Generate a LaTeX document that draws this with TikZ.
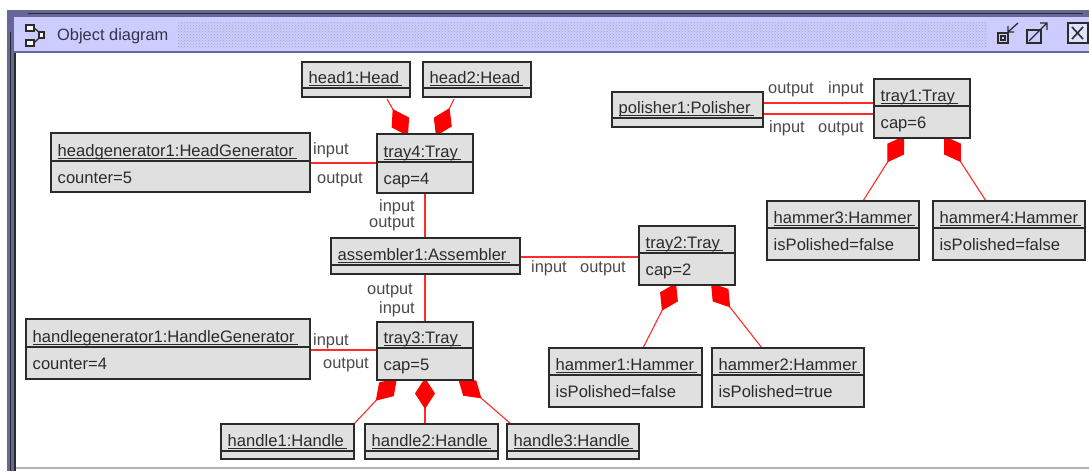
\documentclass[tikz,border=0pt]{standalone}
\usepackage{fontspec}
\setmainfont{Liberation Sans}
\usetikzlibrary{arrows.meta,patterns}
\pgfdeclarelayer{frame}
\pgfdeclarelayer{links}
\pgfsetlayers{frame,links,main}
\definecolor{lav}{HTML}{CCCCFF}
\definecolor{lavdark}{HTML}{666699}
\definecolor{boxfill}{HTML}{E0E0E0}
\definecolor{ink}{HTML}{2B2B2B}
\definecolor{lab}{HTML}{4A4A4A}
\definecolor{linkred}{HTML}{FF2A2A}
\newcommand{\ulin}[1]{\setbox0=\hbox{#1\kern3pt}\rlap{\rule[-3.4pt]{\wd0}{1.1pt}}\box0 }
\tikzset{
  objbox/.style={draw=ink,line width=1.2pt,fill=boxfill,inner sep=0pt,outer sep=0pt},
  objtext/.style={anchor=base west,inner sep=0pt,font=\fontsize{16.6}{18}\selectfont,text=ink},
  lab/.style={anchor=base west,inner sep=0pt,font=\fontsize{16.4}{18}\selectfont,text=lab},
  link/.style={draw=linkred,line width=1.1pt},
  comp/.style={link,{Diamond[length=31pt,width=20pt,fill=red,color=red]}-},
  icon/.style={draw=ink,line width=1.3pt},
}
% name, x0, y0, x1, y1, separator y, title, attribute
\newcommand{\objbox}[8]{%
  \node[objbox,minimum width=#4pt-#2pt,minimum height=#5pt-#3pt,anchor=north west] (#1) at (#2,#3) {};
  \draw[ink,line width=1.2pt] (#2,#6) -- (#4,#6);
  \node[objtext] (#1t) at (#2+6.5,#6-5) {\ulin{#7}};
  \node[objtext] (#1a) at (#2+6.5,#6+22.5) {#8};
}
\begin{document}
\begin{tikzpicture}[x=1pt,y=-1pt]
\useasboundingbox (0,0) rectangle (1089,471);
\begin{pgfonlayer}{frame}
\fill[lavdark] (7,10) rectangle (1089,52);
\fill[lavdark] (7,10) rectangle (14,471);
\fill[lav] (14,17) rectangle (1089,51);
\fill[ink] (14,52) rectangle (16,471);
\fill[white] (16,53) rectangle (1089,467);
\draw[lavdark,line width=1pt] (14,52.5) -- (1089,52.5);
\draw[ink,line width=1pt] (28,13.5) -- (1083,13.5);
\draw[ink,line width=1pt] (10.5,32) -- (10.5,471);
\draw[black!30,line width=1.5pt] (16,468) -- (1089,468);
\path[pattern=crosshatch dots,pattern color=lavdark!60] (178,22) rectangle (987,47);
\end{pgfonlayer}
% title bar
\draw[icon,fill=white] (26,25) rectangle (34,31);
\draw[icon,fill=white] (26,40) rectangle (34,46);
\draw[icon] (34,28) -- (39,32) -- (39,38) -- (34,43);
\draw[icon,fill=white] (39,32) rectangle (44,38);
\node[anchor=base west,inner sep=0pt,font=\fontsize{16.4}{18}\selectfont,text=lavdark!50!black] (title) at (57,40) {Object diagram};
\draw[icon,fill=lav] (998,33) rectangle (1008,43);
\draw[icon] (1001,36) rectangle (1005,40);
\draw[icon] (1018,23) -- (1008,32) (1008,26) -- (1008,32) -- (1014,32);
\draw[icon] (1027,30) rectangle (1041,43);
\draw[icon] (1029,41) -- (1047,23) (1040,23) -- (1047,23) -- (1047,30);
\draw[icon,line width=1.6pt,fill=lav!60!white] (1068,23) rectangle (1088,43);
\draw[icon,line width=1.6pt] (1072,27) -- (1083,39) (1072,39) -- (1083,27);
% boxes
\objbox{head1}{302}{62}{410}{97}{88}{head1:Head}{}
\objbox{head2}{423}{62}{531}{97}{88}{head2:Head}{}
\objbox{hgen}{51}{133}{310}{192}{161}{headgenerator1:HeadGenerator}{counter=5}
\objbox{tray4}{377}{134}{473}{193}{162}{tray4:Tray}{cap=4}
\objbox{polisher}{612}{92}{763}{127}{118}{polisher1:Polisher}{}
\objbox{tray1}{874}{79}{970}{138}{106}{tray1:Tray}{cap=6}
\objbox{hammer3}{767}{201}{919}{260}{228}{hammer3:Hammer}{isPolished=false}
\objbox{hammer4}{933}{201}{1085}{260}{228}{hammer4:Hammer}{isPolished=false}
\objbox{assembler}{331}{238}{520}{274}{265}{assembler1:Assembler}{}
\objbox{tray2}{639}{226}{735}{285}{253}{tray2:Tray}{cap=2}
\objbox{hangen}{26}{319}{310}{379}{347}{handlegenerator1:HandleGenerator}{counter=4}
\objbox{tray3}{377}{322}{473}{380}{348}{tray3:Tray}{cap=5}
\objbox{hammer1}{549}{348}{702}{407}{375}{hammer1:Hammer}{isPolished=false}
\objbox{hammer2}{712}{348}{864}{407}{375}{hammer2:Hammer}{isPolished=true}
\objbox{handle1}{221}{424}{354}{459}{451}{handle1:Handle}{}
\objbox{handle2}{365}{424}{498}{459}{451}{handle2:Handle}{}
\objbox{handle3}{507}{424}{639}{459}{451}{handle3:Handle}{}
\begin{pgfonlayer}{links}
% plain links
\draw[link] (hgen.east |- 0,163) -- (tray4.west |- 0,163);
\draw[link] (tray4.south) -- (tray4.south |- assembler.north);
\draw[link] (tray3.north |- assembler.south) -- (tray3.north);
\draw[link] (assembler.east |- 0,257) -- (tray2.west |- 0,257);
\draw[link] (hangen.east |- 0,350) -- (tray3.west |- 0,350);
\draw[link] (polisher.east |- 0,103) -- (tray1.west |- 0,103);
\draw[link] (polisher.east |- 0,114) -- (tray1.west |- 0,114);
% composition links: the diamond's point sits just inside the owner
\draw[comp] ([xshift=31pt,yshift=-2pt]tray4.north west) -- ([xshift=85pt,yshift=-2pt]head1.south west);
\draw[comp] ([xshift=59pt,yshift=-2pt]tray4.north west) -- ([xshift=31pt,yshift=-2pt]head2.south west);
\draw[comp] ([xshift=30pt,yshift=2pt]tray1.south west) -- ([xshift=-56pt]hammer3.north east);
\draw[comp] ([xshift=-26pt,yshift=2pt]tray1.south east) -- ([xshift=53pt]hammer4.north west);
\draw[comp] ([xshift=37pt,yshift=2pt]tray2.south west) -- ([xshift=-59pt]hammer1.north east);
\draw[comp] ([xshift=-24pt,yshift=2pt]tray2.south east) -- ([xshift=50pt]hammer2.north west);
\draw[comp] ([xshift=20pt,yshift=2pt]tray3.south west) -- (handle1.north east);
\draw[comp] ([yshift=2pt]tray3.south) -- (tray3.south |- handle2.north);
\draw[comp] ([xshift=-15pt,yshift=2pt]tray3.south east) -- ([xshift=4pt]handle3.north west);
\end{pgfonlayer}
% link labels
\node[lab] (l1) at (313,154) {input};
\node[lab] (l2) at (317,183) {output};
\node[lab] (l3) at (379,211) {input};
\node[lab] (l4) at (369,227) {output};
\node[lab] (l5) at (367,294) {output};
\node[lab] (l6) at (379,313) {input};
\node[lab] (l7) at (531,272) {input};
\node[lab] (l8) at (580,272) {output};
\node[lab] (l9) at (313,345) {input};
\node[lab] (l10) at (323,368) {output};
\node[lab] (l11) at (768,93) {output};
\node[lab] (l12) at (828,93) {input};
\node[lab] (l13) at (769,132) {input};
\node[lab] (l14) at (818,132) {output};
\end{tikzpicture}
\end{document}
